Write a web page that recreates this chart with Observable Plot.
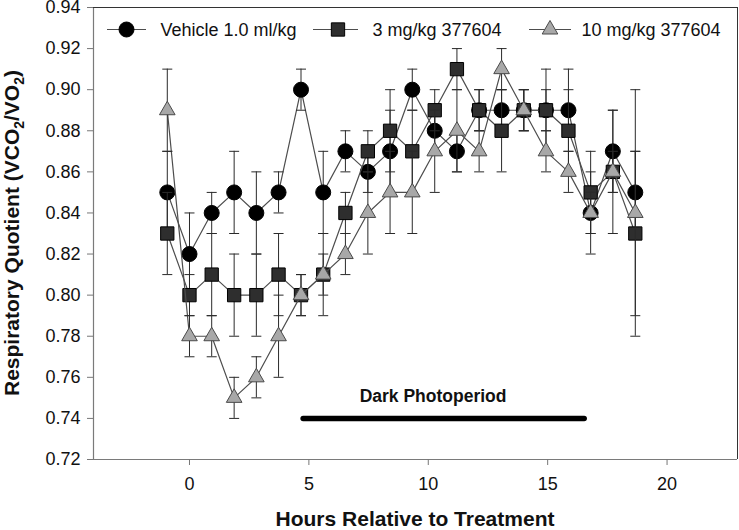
<!DOCTYPE html>
<html><head><meta charset="utf-8">
<script src="https://cdn.jsdelivr.net/npm/d3@7"></script>
<script src="https://cdn.jsdelivr.net/npm/@observablehq/plot@0.6"></script>
<style>
body{margin:0;background:#fff;}
#chart svg{display:block;}
</style></head><body><div id="chart"></div>
<script>
// ---- data ----
const hours = [-0.93, 0, 0.93, 1.87, 2.8, 3.73, 4.67, 5.6, 6.53, 7.47, 8.4, 9.33, 10.27, 11.2, 12.13, 13.07, 14, 14.93, 15.87, 16.8, 17.73, 18.67];
const vehicle    = [0.85,0.82,0.84,0.85,0.84,0.85,0.90,0.85,0.87,0.86,0.87,0.90,0.88,0.87,0.89,0.89,0.89,0.89,0.89,0.84,0.87,0.85];
const vehicleErr = [0.02,0.02,0.01,0.02,0.02,0.01,0.01,0.02,0.01,0.01,0.02,0.01,0.01,0.01,0.01,0.01,0.01,0.02,0.02,0.02,0.02,0.02];
const dose3      = [0.83,0.80,0.81,0.80,0.80,0.81,0.80,0.81,0.84,0.87,0.88,0.87,0.89,0.91,0.89,0.88,0.89,0.89,0.88,0.85,0.86,0.83];
const dose3Err   = [0.02,0.01,0.02,0.02,0.02,0.02,0.01,0.02,0.01,0.01,0.02,0.02,0.01,0.01,0.01,0.02,0.01,0.01,0.02,0.02,0.01,0.04];
const dose10     = [0.89,0.78,0.78,0.75,0.76,0.78,0.80,0.81,0.82,0.84,0.85,0.85,0.87,0.88,0.87,0.91,0.89,0.87,0.86,0.84,0.86,0.84];
const dose10Err  = [0.02,0.01,0.01,0.01,0.01,0.02,0.01,0.01,0.01,0.02,0.02,0.02,0.02,0.02,0.01,0.01,0.01,0.01,0.01,0.01,0.03,0.06];
const seriesNames = ["Vehicle 1.0 ml/kg", "3 mg/kg 377604", "10 mg/kg 377604"];
const yTicks = [0.72,0.74,0.76,0.78,0.80,0.82,0.84,0.86,0.88,0.90,0.92,0.94];
const xTicks = [0,5,10,15,20];
const darkPeriod = [4.78, 16.55];
const darkLevel = 0.74;
const darkLabel = "Dark Photoperiod";
const darkLabelAt = [10.2, 0.7505];
const xTitle = "Hours Relative to Treatment";

// ---- build ----
const rows = (vals, errs) => hours.map((h, i) => ({x: h, y: vals[i], lo: +(vals[i] - errs[i]).toFixed(3), hi: +(vals[i] + errs[i]).toFixed(3)}));
const series = [
  {name: seriesNames[0], data: rows(vehicle, vehicleErr), symbol: "circle", r: 7.5, fill: "#000", stroke: "#000"},
  {name: seriesNames[1], data: rows(dose3, dose3Err), symbol: "square", r: 7.5, fill: "#2e2e2e", stroke: "#000"},
  {name: seriesNames[2], data: rows(dose10, dose10Err), symbol: "triangle", r: 5.8, fill: "#a8a8a8", stroke: "#4a4a4a"}
];
const cap = {draw(ctx) { ctx.moveTo(-5, 0); ctx.lineTo(5, 0); }};
const xDomain = [-4.02, 22.95], yDomain = [0.72, 0.94];

const marks = [];
for (const s of series) {
  marks.push(Plot.line(s.data, {x: "x", y: "y", stroke: "#4d4d4d", strokeWidth: 1.2}));
  marks.push(Plot.ruleX(s.data, {x: "x", y1: "lo", y2: "hi", stroke: "#2a2a2a", strokeWidth: 1}));
  marks.push(Plot.dot(s.data, {x: "x", y: "lo", symbol: cap, r: 5, stroke: "#2a2a2a", strokeWidth: 1, fill: "none"}));
  marks.push(Plot.dot(s.data, {x: "x", y: "hi", symbol: cap, r: 5, stroke: "#2a2a2a", strokeWidth: 1, fill: "none"}));
  marks.push(Plot.dot(s.data, {x: "x", y: "y", symbol: s.symbol, r: s.r, fill: s.fill, stroke: s.stroke, strokeWidth: 1}));
}

const chart = Plot.plot({
  width: 739, height: 530,
  marginLeft: 93, marginRight: 2, marginTop: 7, marginBottom: 71,
  style: {fontFamily: "'Liberation Sans', Arial, sans-serif", fontSize: "18px", color: "#111", background: "#fff", overflow: "visible"},
  x: {domain: xDomain, label: null},
  y: {domain: yDomain, label: null},
  marks: [
    Plot.ruleX([xDomain[0]], {stroke: "#7a7a7a", strokeWidth: 1.2}),
    Plot.ruleY([yDomain[0]], {stroke: "#7a7a7a", strokeWidth: 1.2}),
    Plot.ruleX([xDomain[1]], {stroke: "#333", strokeWidth: 1}),
    Plot.ruleY([yDomain[1]], {stroke: "#333", strokeWidth: 1}),
    Plot.axisY(yTicks, {tickSize: 6, tickPadding: 7, tickFormat: d3.format(".2f"), fontSize: 18, stroke: "#777", fill: "#111", label: null}),
    Plot.axisX(xTicks, {tickSize: 6, tickPadding: 12, tickFormat: d3.format("d"), fontSize: 18, stroke: "#777", fill: "#111", label: null}),
    Plot.ruleY([darkLevel], {x1: darkPeriod[0], x2: darkPeriod[1], stroke: "#000", strokeWidth: 5.5, strokeLinecap: "round"}),
    Plot.text([darkLabel], {x: darkLabelAt[0], y: darkLabelAt[1], text: d => d, fontSize: 17.5, fontWeight: "bold", fill: "#111"}),
    ...marks
  ]
});
document.getElementById("chart").appendChild(chart);

// ---- titles & legend ----
const svg = d3.select(chart);
const font = "'Liberation Sans', Arial, sans-serif";
svg.append("text")
  .attr("x", 415).attr("y", 526)
  .attr("text-anchor", "middle").attr("font-family", font)
  .attr("font-size", 21).attr("font-weight", "bold").attr("fill", "#111")
  .text(xTitle);
const yt = svg.append("text")
  .attr("transform", "translate(19,233) rotate(-90)")
  .attr("text-anchor", "middle").attr("font-family", font)
  .attr("font-size", 21).attr("font-weight", "bold").attr("fill", "#111");
yt.append("tspan").text("Respiratory Quotient (VCO");
yt.append("tspan").attr("dy", 5).attr("font-size", 14).text("2");
yt.append("tspan").attr("dy", -5).text("/VO");
yt.append("tspan").attr("dy", 5).attr("font-size", 14).text("2");
yt.append("tspan").attr("dy", -5).text(")");

const legendPos = [
  {x1: 107, x2: 146, cx: 126.5, tx: 160.5},
  {x1: 313, x2: 358, cx: 338, tx: 372.5},
  {x1: 529, x2: 571, cx: 550, tx: 581.5}
];
const symTypes = {circle: d3.symbolCircle, square: d3.symbolSquare, triangle: d3.symbolTriangle};
const lg = svg.append("g");
series.forEach((s, i) => {
  const p = legendPos[i], ly = 29.5;
  lg.append("line").attr("x1", p.x1).attr("x2", p.x2).attr("y1", ly).attr("y2", ly).attr("stroke", "#4d4d4d").attr("stroke-width", 1.2);
  lg.append("path").attr("transform", `translate(${p.cx},${ly})`)
    .attr("d", d3.symbol(symTypes[s.symbol], Math.PI * s.r * s.r)())
    .attr("fill", s.fill).attr("stroke", s.stroke);
  lg.append("text").attr("x", p.tx).attr("y", 36).attr("text-anchor", "start").attr("font-family", font).attr("font-size", 18).attr("fill", "#111").text(s.name);
});
</script></body></html>
